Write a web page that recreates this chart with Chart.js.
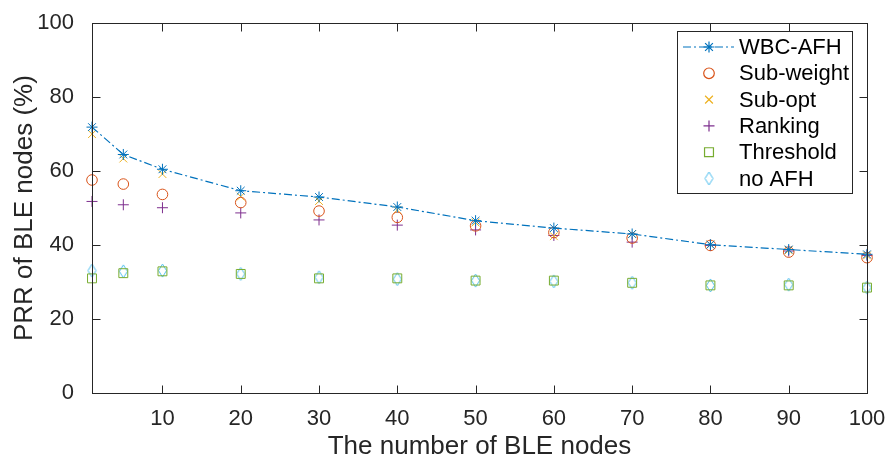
<!DOCTYPE html>
<html>
<head>
<meta charset="utf-8">
<script src="https://cdn.jsdelivr.net/npm/chart.js@4.4.1/dist/chart.umd.min.js"></script>
<style>
  html, body { margin: 0; padding: 0; background: #fff; }
  #wrap { width: 892px; height: 464px; }
</style>
</head>
<body>
<div id="wrap"><canvas id="prrChart" width="892" height="464"></canvas></div>
<script>
// data
const nodeCounts = [1, 5, 10, 20, 30, 40, 50, 60, 70, 80, 90, 100];
const wbcAfh    = [71.9, 64.5, 60.5, 54.7, 53.0, 50.3, 46.6, 44.6, 43.0, 40.1, 38.8, 37.5];
const subWeight = [57.6, 56.5, 53.7, 51.5, 49.2, 47.5, 45.2, 43.4, 41.9, 39.9, 38.1, 36.6];
const subOpt    = [70.0, 63.4, 59.2, 53.1, 51.9, 49.5, 46.1, 42.4, 43.0, 40.2, 38.6, 37.2];
const ranking   = [51.8, 50.9, 50.1, 48.7, 46.8, 45.4, 44.1, 42.6, 40.8, 39.9, 38.4, 37.2];
const threshold = [31.0, 32.4, 32.9, 32.2, 31.0, 31.0, 30.4, 30.4, 29.8, 29.1, 29.1, 28.5];
const noAfh     = [33.1, 32.9, 33.1, 32.2, 31.3, 30.8, 30.4, 30.2, 29.8, 29.1, 29.3, 28.5];

const seriesNames = ["WBC-AFH", "Sub-weight", "Sub-opt", "Ranking", "Threshold", "no AFH"];
const xTicks = [10, 20, 30, 40, 50, 60, 70, 80, 90, 100];
const yTicks = [0, 20, 40, 60, 80, 100];

const FONT = "'Liberation Sans', Arial, Helvetica, sans-serif";
const INK = "#262626";

// MATLAB-like tall diamond marker
function makeDiamond(color) {
  const c = document.createElement("canvas");
  c.width = 11; c.height = 15;
  const g = c.getContext("2d");
  g.strokeStyle = color;
  g.lineWidth = 1;
  g.beginPath();
  g.moveTo(5.5, 1);
  g.lineTo(9.5, 7.5);
  g.lineTo(5.5, 14);
  g.lineTo(1.5, 7.5);
  g.closePath();
  g.stroke();
  return c;
}

const pts = vals => nodeCounts.map((x, i) => ({ x: x, y: vals[i] }));

function markerSet(label, vals, color, style, radius) {
  return {
    label: label,
    data: pts(vals),
    showLine: false,
    pointStyle: style,
    pointRadius: radius,
    pointHoverRadius: radius,
    borderColor: color,
    backgroundColor: "rgba(0,0,0,0)",
    pointBorderWidth: 1,
    clip: false
  };
}

const datasets = [
  {
    label: seriesNames[0],
    data: pts(wbcAfh),
    showLine: true,
    borderColor: "#0072BD",
    backgroundColor: "rgba(0,0,0,0)",
    borderWidth: 1.2,
    borderDash: [8, 3, 2, 3],
    pointStyle: "star",
    pointRadius: 5.5,
    pointBorderWidth: 1,
    pointBorderColor: "#0072BD",
    tension: 0,
    clip: false,
    order: 0
  },
  markerSet(seriesNames[1], subWeight, "#D95319", "circle", 5.3),
  markerSet(seriesNames[2], subOpt, "#EDB120", "crossRot", 5.5),
  markerSet(seriesNames[3], ranking, "#7E2F8E", "cross", 5.5),
  markerSet(seriesNames[4], threshold, "#77AC30", "rect", 6.3),
  markerSet(seriesNames[5], noAfh, "#4DBEEE", makeDiamond("#4DBEEE"), 6)
];

// box with inward ticks on all four sides
const axesBox = {
  id: "axesBox",
  afterDatasetsDraw(chart) {
    const { ctx, chartArea: a, scales } = chart;
    const L = Math.round(a.left) + 0.5, R = Math.round(a.right) + 0.5;
    const T = Math.round(a.top) + 0.5, B = Math.round(a.bottom) + 0.5;
    const tl = 8;
    ctx.save();
    ctx.strokeStyle = INK;
    ctx.lineWidth = 1;
    ctx.setLineDash([]);
    ctx.strokeRect(L, T, R - L, B - T);
    ctx.beginPath();
    xTicks.forEach(v => {
      const px = Math.round(scales.x.getPixelForValue(v)) + 0.5;
      ctx.moveTo(px, B); ctx.lineTo(px, B - tl);
      ctx.moveTo(px, T); ctx.lineTo(px, T + tl);
    });
    yTicks.forEach(v => {
      const py = Math.round(scales.y.getPixelForValue(v)) + 0.5;
      ctx.moveTo(L, py); ctx.lineTo(L + tl, py);
      ctx.moveTo(R, py); ctx.lineTo(R - tl, py);
    });
    ctx.stroke();
    ctx.restore();
  }
};

// legend inside the axes, top right
const boxLegend = {
  id: "boxLegend",
  afterDraw(chart) {
    const ctx = chart.ctx;
    const bx = 677.5, by = 31.5, bw = 175, bh = 162;
    ctx.save();
    ctx.fillStyle = "#fff";
    ctx.fillRect(bx, by, bw, bh);
    ctx.strokeStyle = INK;
    ctx.lineWidth = 1;
    ctx.strokeRect(bx, by, bw, bh);
    ctx.font = "22px " + FONT;
    ctx.textBaseline = "middle";
    ctx.textAlign = "left";
    chart.data.datasets.forEach((ds, i) => {
      const y = 47 + i * 26.3;
      if (ds.showLine) {
        ctx.strokeStyle = ds.borderColor;
        ctx.lineWidth = ds.borderWidth;
        ctx.setLineDash(ds.borderDash);
        ctx.beginPath();
        ctx.moveTo(683, y); ctx.lineTo(734, y);
        ctx.stroke();
        ctx.setLineDash([]);
      }
      ctx.strokeStyle = ds.borderColor;
      ctx.fillStyle = "rgba(0,0,0,0)";
      Chart.helpers.drawPoint(ctx, {
        pointStyle: ds.pointStyle,
        radius: ds.pointRadius,
        rotation: 0,
        borderWidth: 1
      }, 709, y);
      ctx.fillStyle = "#000";
      ctx.fillText(ds.label, 739, y + 1);
    });
    ctx.restore();
  }
};

new Chart(document.getElementById("prrChart"), {
  type: "scatter",
  data: { datasets: datasets },
  options: {
    responsive: false,
    animation: false,
    devicePixelRatio: 1,
    layout: { padding: { top: 16, right: 25, left: 0, bottom: 0 } },
    plugins: {
      legend: { display: false },
      tooltip: { enabled: false }
    },
    scales: {
      x: {
        type: "linear",
        min: 1,
        max: 100,
        afterBuildTicks: s => { s.ticks = xTicks.map(v => ({ value: v })); },
        afterFit: s => { s.height = 71; },
        grid: { display: false },
        border: { display: false },
        ticks: { color: INK, font: { family: FONT, size: 22 }, padding: 5, maxRotation: 0, autoSkip: false },
        title: {
          display: true,
          text: "The number of BLE nodes",
          color: INK,
          font: { family: FONT, size: 26 },
          padding: { top: 0, bottom: 2 }
        }
      },
      y: {
        min: 0,
        max: 100,
        afterBuildTicks: s => { s.ticks = yTicks.map(v => ({ value: v })); },
        afterFit: s => { s.width = 92; },
        grid: { display: false },
        border: { display: false },
        ticks: { color: INK, font: { family: FONT, size: 22 }, padding: 10 },
        title: {
          display: true,
          text: "PRR of BLE nodes (%)",
          color: INK,
          font: { family: FONT, size: 26 },
          padding: { top: 9, bottom: 0 }
        }
      }
    }
  },
  plugins: [axesBox, boxLegend]
});
</script>
</body>
</html>
